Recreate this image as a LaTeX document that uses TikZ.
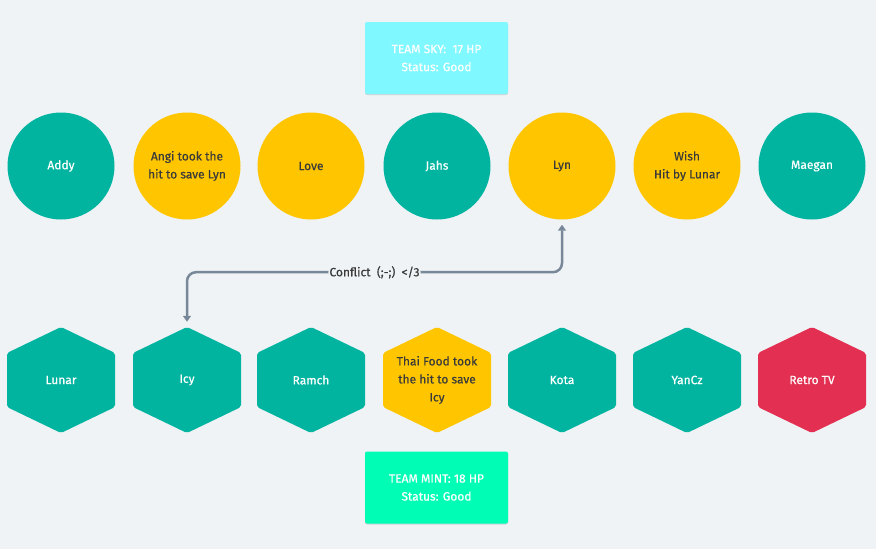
\documentclass[tikz,border=0pt]{standalone}
\usepackage{fontspec}
\setmainfont{Fira Sans}[FakeBold=0.5]
\usepackage{xcolor}
\usetikzlibrary{shapes,arrows.meta,positioning,shadows}

\definecolor{bgcol}{HTML}{EFF3F6}
\definecolor{tealcol}{HTML}{00B4A0}
\definecolor{goldcol}{HTML}{FFC600}
\definecolor{redcol}{HTML}{E32F51}
\definecolor{skycol}{HTML}{80F8FF}
\definecolor{mintcol}{HTML}{00FDB5}
\definecolor{linkcol}{HTML}{788898}
\definecolor{inkcol}{HTML}{3A3A3A}

\begin{document}
\begin{tikzpicture}[x=1pt, y=-1pt,
    font={\fontsize{12}{18}\selectfont},
    member/.style={circle, minimum size=107pt, inner sep=0pt, align=center},
    tealball/.style={member, fill=tealcol, text=white},
    goldball/.style={member, fill=goldcol, text=inkcol},
    hexbox/.style={rectangle, minimum width=108pt, minimum height=106pt, inner sep=0pt, align=center,
        path picture={\fill[#1, rounded corners=2pt] (path picture bounding box.north)
            -- ([yshift=-26pt]path picture bounding box.north east)
            -- ([yshift=26pt]path picture bounding box.south east)
            -- (path picture bounding box.south)
            -- ([yshift=26pt]path picture bounding box.south west)
            -- ([yshift=-26pt]path picture bounding box.north west) -- cycle;}},
    tealhex/.style={hexbox=tealcol, text=white},
    goldhex/.style={hexbox=goldcol, text=inkcol},
    redhex/.style={hexbox=redcol, text=white},
    teambox/.style={rectangle, minimum width=143pt, minimum height=72pt, rounded corners=2pt, align=center, text=white,
        drop shadow={shadow xshift=0pt, shadow yshift=-1pt, opacity=0.12, fill=black}},
    link/.style={{Triangle[length=6pt,width=8pt]}-{Triangle[length=6pt,width=8pt]}, line width=2.5pt, draw=linkcol, rounded corners=9pt, shorten <=5pt, shorten >=5pt},
    conflict/.style={fill=bgcol, text=inkcol, inner sep=1pt}
]
    % Background
    \fill[bgcol] (0,0) rectangle (876,549);
    \useasboundingbox (0,0) rectangle (876,549);

    % Team boxes
    \node[teambox, fill=skycol] (sky) at (436.5,58) {TEAM SKY:~ 17 HP\\Status: Good};
    \node[teambox, fill=mintcol] (mint) at (436.5,487.5) {TEAM MINT: 18 HP\\Status: Good};

    % Team Sky
    \node[tealball] (addy) at (61,166) {Addy};
    \node[goldball] (angi) at (187,166) {Angi took the\\hit to save Lyn};
    \node[goldball] (love) at (311,166) {Love};
    \node[tealball] (jahs) at (437,166) {Jahs};
    \node[goldball] (lyn) at (562,166) {Lyn};
    \node[goldball] (wish) at (687,166) {Wish\\Hit by Lunar};
    \node[tealball] (maegan) at (812,166) {Maegan};

    % Team Mint
    \node[tealhex] (lunar) at (61,380) {Lunar};
    \node[tealhex] (icy) at (187,380) {Icy};
    \node[tealhex] (ramch) at (311,380) {Ramch};
    \node[goldhex] (thai) at (437,380) {Thai Food took\\the hit to save\\Icy};
    \node[tealhex] (kota) at (562,380) {Kota};
    \node[tealhex] (yancz) at (687,380) {YanCz};
    \node[redhex] (retro) at (812,380) {Retro TV};

    % Conflict
    \draw[link] (lyn.south) -- ++(0,52.5) -| node[pos=0.25, conflict] {Conflict~ (;-;)~ </3} (icy.north);

\end{tikzpicture}
\end{document}
